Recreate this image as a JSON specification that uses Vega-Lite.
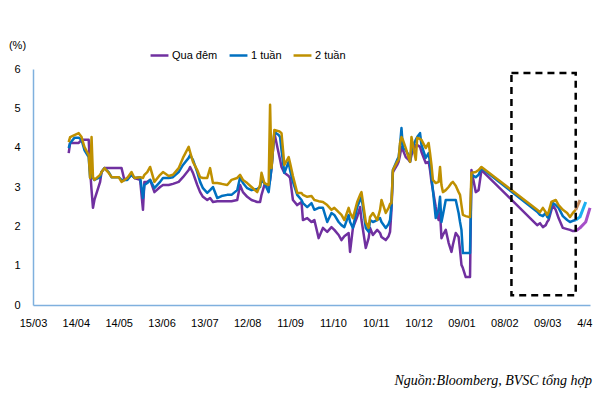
{
  "$schema": "https://vega.github.io/schema/vega-lite/v6.json",
  "width": 557,
  "height": 236,
  "autosize": "none",
  "padding": {"left": 33, "top": 69, "right": 10, "bottom": 95},
  "background": "white",
  "title": {
    "text": "Nguồn:Bloomberg, BVSC tổng hợp",
    "orient": "bottom",
    "anchor": "end",
    "font": "Liberation Serif",
    "fontStyle": "italic",
    "fontWeight": "normal",
    "fontSize": 14,
    "color": "#000000",
    "offset": 46
  },
  "datasets": {
    "rates": [
      {"date":"2019-04-09","qd":3.86,"w1":3.99,"w2":4.14},
      {"date":"2019-04-10","qd":4.12,"w1":4.12,"w2":4.27},
      {"date":"2019-04-13","qd":4.12,"w1":4.25,"w2":4.32},
      {"date":"2019-04-16","qd":4.12,"w1":4.25,"w2":4.37},
      {"date":"2019-04-18","qd":4.20,"w1":4.20,"w2":4.27},
      {"date":"2019-04-20","qd":4.20,"w1":3.94,"w2":4.02},
      {"date":"2019-04-23","qd":4.20,"w1":3.76,"w2":3.81},
      {"date":"2019-04-24","qd":3.43,"w1":3.23,"w2":3.23},
      {"date":"2019-04-25","qd":2.92,"w1":3.31,"w2":4.27},
      {"date":"2019-04-26","qd":2.47,"w1":3.23,"w2":3.25},
      {"date":"2019-04-27","qd":2.67,"w1":3.18,"w2":3.18},
      {"date":"2019-05-01","qd":3.13,"w1":3.25,"w2":3.31},
      {"date":"2019-05-02","qd":3.38,"w1":3.38,"w2":3.38},
      {"date":"2019-05-04","qd":3.48,"w1":3.48,"w2":3.48},
      {"date":"2019-05-07","qd":3.48,"w1":3.38,"w2":3.36},
      {"date":"2019-05-09","qd":3.48,"w1":3.25,"w2":3.25},
      {"date":"2019-05-14","qd":3.48,"w1":3.25,"w2":3.25},
      {"date":"2019-05-16","qd":3.48,"w1":3.18,"w2":3.13},
      {"date":"2019-05-18","qd":3.18,"w1":3.18,"w2":3.18},
      {"date":"2019-05-20","qd":3.23,"w1":3.18,"w2":3.23},
      {"date":"2019-05-23","qd":3.31,"w1":3.31,"w2":3.38},
      {"date":"2019-05-25","qd":3.23,"w1":3.23,"w2":3.23},
      {"date":"2019-05-29","qd":3.18,"w1":3.25,"w2":3.25},
      {"date":"2019-05-31","qd":2.42,"w1":2.72,"w2":3.23},
      {"date":"2019-06-01","qd":3.13,"w1":3.05,"w2":3.31},
      {"date":"2019-06-03","qd":3.13,"w1":3.10,"w2":3.38},
      {"date":"2019-06-05","qd":3.18,"w1":3.18,"w2":3.51},
      {"date":"2019-06-08","qd":2.87,"w1":2.97,"w2":3.13},
      {"date":"2019-06-12","qd":3.00,"w1":3.13,"w2":3.31},
      {"date":"2019-06-14","qd":3.05,"w1":3.23,"w2":3.38},
      {"date":"2019-06-18","qd":3.05,"w1":3.23,"w2":3.28},
      {"date":"2019-06-21","qd":3.08,"w1":3.25,"w2":3.31},
      {"date":"2019-06-25","qd":3.13,"w1":3.38,"w2":3.48},
      {"date":"2019-06-28","qd":3.25,"w1":3.56,"w2":3.74},
      {"date":"2019-07-02","qd":3.43,"w1":3.74,"w2":4.02},
      {"date":"2019-07-03","qd":3.51,"w1":3.81,"w2":3.89},
      {"date":"2019-07-05","qd":3.36,"w1":3.69,"w2":3.64},
      {"date":"2019-07-08","qd":3.05,"w1":3.38,"w2":3.43},
      {"date":"2019-07-10","qd":2.87,"w1":3.13,"w2":3.25},
      {"date":"2019-07-12","qd":2.75,"w1":2.97,"w2":3.23},
      {"date":"2019-07-15","qd":2.67,"w1":2.85,"w2":3.23},
      {"date":"2019-07-17","qd":2.72,"w1":2.92,"w2":3.48},
      {"date":"2019-07-19","qd":2.62,"w1":3.00,"w2":3.10},
      {"date":"2019-07-22","qd":2.64,"w1":2.72,"w2":3.10},
      {"date":"2019-07-25","qd":2.64,"w1":2.77,"w2":3.08},
      {"date":"2019-07-29","qd":2.64,"w1":2.80,"w2":3.05},
      {"date":"2019-08-01","qd":2.64,"w1":2.80,"w2":3.18},
      {"date":"2019-08-05","qd":2.67,"w1":2.92,"w2":3.23},
      {"date":"2019-08-07","qd":3.05,"w1":3.25,"w2":3.31},
      {"date":"2019-08-09","qd":2.87,"w1":3.10,"w2":3.18},
      {"date":"2019-08-12","qd":2.75,"w1":2.97,"w2":3.10},
      {"date":"2019-08-15","qd":2.67,"w1":2.92,"w2":3.00},
      {"date":"2019-08-19","qd":2.62,"w1":2.95,"w2":2.87},
      {"date":"2019-08-21","qd":2.62,"w1":3.00,"w2":3.05},
      {"date":"2019-08-22","qd":2.80,"w1":3.18,"w2":3.36},
      {"date":"2019-08-24","qd":3.05,"w1":3.10,"w2":3.10},
      {"date":"2019-08-27","qd":3.03,"w1":2.87,"w2":3.05},
      {"date":"2019-08-28","qd":3.18,"w1":3.18,"w2":5.09},
      {"date":"2019-08-29","qd":3.48,"w1":3.48,"w2":3.48},
      {"date":"2019-08-31","qd":4.37,"w1":4.40,"w2":4.45},
      {"date":"2019-09-03","qd":3.86,"w1":4.32,"w2":4.42},
      {"date":"2019-09-04","qd":3.69,"w1":4.27,"w2":4.40},
      {"date":"2019-09-05","qd":3.51,"w1":3.94,"w2":4.37},
      {"date":"2019-09-07","qd":3.36,"w1":3.36,"w2":3.56},
      {"date":"2019-09-10","qd":3.28,"w1":3.64,"w2":3.76},
      {"date":"2019-09-11","qd":3.23,"w1":3.43,"w2":3.61},
      {"date":"2019-09-13","qd":2.67,"w1":3.13,"w2":3.28},
      {"date":"2019-09-16","qd":2.54,"w1":2.80,"w2":2.85},
      {"date":"2019-09-19","qd":2.62,"w1":2.67,"w2":2.85},
      {"date":"2019-09-20","qd":2.16,"w1":2.59,"w2":2.80},
      {"date":"2019-09-23","qd":2.21,"w1":2.49,"w2":2.75},
      {"date":"2019-09-26","qd":2.11,"w1":2.59,"w2":2.77},
      {"date":"2019-09-28","qd":2.16,"w1":2.42,"w2":2.67},
      {"date":"2019-10-01","qd":1.70,"w1":2.47,"w2":2.64},
      {"date":"2019-10-04","qd":1.96,"w1":2.47,"w2":2.62},
      {"date":"2019-10-07","qd":1.86,"w1":2.11,"w2":2.54},
      {"date":"2019-10-10","qd":1.98,"w1":2.34,"w2":2.42},
      {"date":"2019-10-12","qd":1.91,"w1":2.29,"w2":2.47},
      {"date":"2019-10-15","qd":1.78,"w1":2.11,"w2":2.36},
      {"date":"2019-10-17","qd":1.65,"w1":2.03,"w2":2.29},
      {"date":"2019-10-19","qd":1.75,"w1":1.98,"w2":2.16},
      {"date":"2019-10-22","qd":1.83,"w1":2.29,"w2":2.47},
      {"date":"2019-10-23","qd":1.35,"w1":2.11,"w2":2.34},
      {"date":"2019-10-25","qd":1.96,"w1":1.96,"w2":2.21},
      {"date":"2019-10-28","qd":2.24,"w1":2.49,"w2":2.62},
      {"date":"2019-10-30","qd":2.49,"w1":2.67,"w2":2.80},
      {"date":"2019-10-31","qd":2.16,"w1":2.75,"w2":2.87},
      {"date":"2019-11-03","qd":1.45,"w1":1.96,"w2":2.11},
      {"date":"2019-11-05","qd":1.70,"w1":1.86,"w2":1.96},
      {"date":"2019-11-06","qd":1.96,"w1":2.16,"w2":2.24},
      {"date":"2019-11-08","qd":1.78,"w1":2.11,"w2":2.34},
      {"date":"2019-11-11","qd":1.91,"w1":2.16,"w2":2.16},
      {"date":"2019-11-13","qd":1.83,"w1":2.21,"w2":2.42},
      {"date":"2019-11-14","qd":1.73,"w1":2.11,"w2":2.67},
      {"date":"2019-11-17","qd":1.65,"w1":1.96,"w2":2.34},
      {"date":"2019-11-19","qd":1.75,"w1":2.06,"w2":2.47},
      {"date":"2019-11-20","qd":1.86,"w1":2.16,"w2":2.57},
      {"date":"2019-11-21","qd":2.42,"w1":2.54,"w2":2.59},
      {"date":"2019-11-22","qd":3.38,"w1":3.43,"w2":3.43},
      {"date":"2019-11-25","qd":3.56,"w1":3.69,"w2":3.64},
      {"date":"2019-11-26","qd":3.64,"w1":3.76,"w2":3.69},
      {"date":"2019-11-27","qd":3.81,"w1":4.07,"w2":4.12},
      {"date":"2019-11-28","qd":4.02,"w1":4.50,"w2":4.27},
      {"date":"2019-11-29","qd":3.94,"w1":3.99,"w2":4.20},
      {"date":"2019-12-01","qd":3.76,"w1":3.94,"w2":3.99},
      {"date":"2019-12-03","qd":3.69,"w1":3.81,"w2":3.74},
      {"date":"2019-12-04","qd":3.64,"w1":3.64,"w2":3.64},
      {"date":"2019-12-05","qd":3.81,"w1":3.94,"w2":4.27},
      {"date":"2019-12-08","qd":4.07,"w1":4.20,"w2":3.69},
      {"date":"2019-12-09","qd":4.07,"w1":4.27,"w2":4.25},
      {"date":"2019-12-11","qd":4.02,"w1":4.37,"w2":4.22},
      {"date":"2019-12-12","qd":3.89,"w1":4.07,"w2":4.20},
      {"date":"2019-12-15","qd":3.61,"w1":3.74,"w2":3.99},
      {"date":"2019-12-17","qd":3.64,"w1":3.86,"w2":4.12},
      {"date":"2019-12-18","qd":3.43,"w1":3.61,"w2":3.86},
      {"date":"2019-12-19","qd":3.13,"w1":3.25,"w2":3.56},
      {"date":"2019-12-20","qd":2.92,"w1":2.92,"w2":3.18},
      {"date":"2019-12-22","qd":2.49,"w1":2.21,"w2":3.10},
      {"date":"2019-12-24","qd":2.16,"w1":2.42,"w2":3.13},
      {"date":"2019-12-25","qd":2.36,"w1":2.75,"w2":3.51},
      {"date":"2019-12-26","qd":1.70,"w1":2.11,"w2":3.05},
      {"date":"2019-12-27","qd":1.78,"w1":2.29,"w2":2.87},
      {"date":"2019-12-29","qd":1.91,"w1":2.67,"w2":2.92},
      {"date":"2019-12-31","qd":1.58,"w1":2.67,"w2":3.00},
      {"date":"2020-01-02","qd":1.35,"w1":2.67,"w2":3.10},
      {"date":"2020-01-03","qd":1.53,"w1":2.67,"w2":3.13},
      {"date":"2020-01-05","qd":1.83,"w1":2.67,"w2":3.03},
      {"date":"2020-01-07","qd":1.73,"w1":2.34,"w2":2.87},
      {"date":"2020-01-08","qd":1.40,"w1":2.11,"w2":2.80},
      {"date":"2020-01-09","qd":1.02,"w1":1.91,"w2":2.54},
      {"date":"2020-01-10","qd":0.94,"w1":1.32,"w2":2.29},
      {"date":"2020-01-12","qd":0.71,"w1":1.32,"w2":2.26},
      {"date":"2020-01-14","qd":0.71,"w1":1.32,"w2":2.24},
      {"date":"2020-01-15","qd":0.71,"w1":1.32,"w2":2.24},
      {"date":"2020-01-16","qd":3.43,"w1":3.31,"w2":3.36},
      {"date":"2020-01-19","qd":2.87,"w1":3.25,"w2":3.38},
      {"date":"2020-01-21","qd":2.92,"w1":3.31,"w2":3.43},
      {"date":"2020-01-23","qd":3.43,"w1":3.48,"w2":3.51},
      {"date":"2020-03-02","qd":2.03,"w1":2.37,"w2":2.42},
      {"date":"2020-03-04","qd":2.08,"w1":2.29,"w2":2.36},
      {"date":"2020-03-06","qd":1.98,"w1":2.26,"w2":2.47},
      {"date":"2020-03-08","qd":2.03,"w1":2.34,"w2":2.36},
      {"date":"2020-03-09","qd":2.11,"w1":2.24,"w2":2.29},
      {"date":"2020-03-10","qd":2.16,"w1":2.21,"w2":2.36},
      {"date":"2020-03-12","qd":2.42,"w1":2.52,"w2":2.62},
      {"date":"2020-03-13","qd":2.54,"w1":2.59,"w2":2.64},
      {"date":"2020-03-15","qd":2.42,"w1":2.54,"w2":2.67},
      {"date":"2020-03-17","qd":2.21,"w1":2.47,"w2":2.54},
      {"date":"2020-03-20","qd":1.96,"w1":2.26,"w2":2.42},
      {"date":"2020-03-23","qd":1.93,"w1":2.16,"w2":2.34},
      {"date":"2020-03-25","qd":1.91,"w1":2.11,"w2":2.24},
      {"date":"2020-03-27","qd":1.88,"w1":2.14,"w2":2.34},
      {"date":"2020-03-29","qd":1.88,"w1":2.16,"w2":2.42},
      {"date":"2020-04-01","qd":1.96,"w1":2.24,"w2":2.67},
      {"date":"2020-04-05","qd":2.11,"w1":2.62,"w2":null},
      {"date":"2020-04-08","qd":2.47,"w1":null,"w2":null}
    ],
    "box": [
      {"start":"2020-02-13","end":"2020-03-29","low":0.25,"high":5.9}
    ]
  },
  "layer": [
    {
      "data": {"name": "rates"},
      "transform": [
        {"filter": "time(datum.date) <= utc(2020, 2, 29)"},
        {"fold": ["qd","w1","w2"], "as": ["series","value"]}
      ],
      "mark": {"type": "line", "strokeWidth": 2.5, "strokeJoin": "round"},
      "encoding": {
        "x": {
          "field": "date", "type": "temporal",
          "scale": {"type": "utc", "domain": [{"year":2019,"month":3,"date":15,"utc":true},{"year":2020,"month":4,"date":8,"utc":true}]},
          "axis": {
            "title": null,
            "values": [
              {"year":2019,"month":3,"date":15,"utc":true},
              {"year":2019,"month":4,"date":14,"utc":true},
              {"year":2019,"month":5,"date":14,"utc":true},
              {"year":2019,"month":6,"date":13,"utc":true},
              {"year":2019,"month":7,"date":13,"utc":true},
              {"year":2019,"month":8,"date":12,"utc":true},
              {"year":2019,"month":9,"date":11,"utc":true},
              {"year":2019,"month":10,"date":11,"utc":true},
              {"year":2019,"month":11,"date":10,"utc":true},
              {"year":2019,"month":12,"date":10,"utc":true},
              {"year":2020,"month":1,"date":9,"utc":true},
              {"year":2020,"month":2,"date":8,"utc":true},
              {"year":2020,"month":3,"date":9,"utc":true},
              {"year":2020,"month":4,"date":4,"utc":true}
            ],
            "labelExpr": "utcFormat(datum.value, '%d/%m') == '04/04' ? '4/4' : utcFormat(datum.value, '%d/%m')",
            "grid": false,
            "ticks": false,
            "labelFlush": false,
            "labelOverlap": false,
            "labelPadding": 12,
            "labelFont": "Liberation Sans",
            "labelFontSize": 11,
            "labelColor": "#000000",
            "domainColor": "#7fb0de",
            "domainWidth": 1.5
          }
        },
        "y": {
          "field": "value", "type": "quantitative",
          "scale": {"domain": [0, 6], "nice": false, "zero": true},
          "axis": {
            "title": "(%)",
            "titleAngle": 0,
            "titleX": -16,
            "titleY": -24,
            "titleAlign": "center",
            "titleBaseline": "middle",
            "titleFont": "Liberation Sans",
            "titleFontSize": 11,
            "titleFontWeight": "normal",
            "titleColor": "#000000",
            "values": [0,1,2,3,4,5,6],
            "tickCount": 7,
            "grid": false,
            "ticks": false,
            "labelOverlap": false,
            "labelFlush": false,
            "labelPadding": 13,
            "labelFont": "Liberation Sans",
            "labelFontSize": 11,
            "labelColor": "#000000",
            "domainColor": "#7fb0de",
            "domainWidth": 1.5
          }
        },
        "color": {
          "field": "series", "type": "nominal",
          "scale": {"domain": ["qd","w1","w2"], "range": ["#7030a0","#0070c0","#bf9000"]},
          "legend": {
            "title": null,
            "orient": "none",
            "legendX": 116,
            "legendY": -24,
            "direction": "horizontal",
            "gridAlign": "none",
            "symbolType": "stroke",
            "symbolSize": 320,
            "symbolStrokeWidth": 2.5,
            "labelFont": "Liberation Sans",
            "labelFontSize": 11,
            "labelColor": "#000000",
            "labelOffset": 2,
            "columnPadding": 6,
            "labelExpr": "datum.label == 'qd' ? 'Qua đêm' : datum.label == 'w1' ? '1 tuần' : '2 tuần'"
          }
        }
      }
    },
    {
      "data": {"name": "rates"},
      "transform": [
        {"filter": "time(datum.date) >= utc(2020, 2, 29)"},
        {"fold": ["qd","w1","w2"], "as": ["series","value"]}
      ],
      "mark": {"type": "line", "strokeWidth": 3, "strokeJoin": "round"},
      "encoding": {
        "x": {"field": "date", "type": "temporal"},
        "y": {
          "field": "value", "type": "quantitative",
          "axis": {"values": [0,1,2,3,4,5,6], "tickCount": 7, "labelOverlap": false}
        },
        "color": {
          "field": "series", "type": "nominal",
          "scale": {"domain": ["qd","w1","w2"], "range": ["#a64fc8","#1cb0f0","#c0865a"]},
          "legend": null
        }
      }
    },
    {
      "data": {"name": "box"},
      "mark": {"type": "rect", "fill": null, "fillOpacity": 0, "stroke": "#000000", "strokeWidth": 2.5, "strokeDash": [7, 5]},
      "encoding": {
        "x": {"field": "start", "type": "temporal"},
        "x2": {"field": "end"},
        "y": {
          "field": "low", "type": "quantitative",
          "axis": {"values": [0,1,2,3,4,5,6], "tickCount": 7, "labelOverlap": false}
        },
        "y2": {"field": "high"}
      }
    }
  ],
  "resolve": {"scale": {"color": "independent"}},
  "config": {
    "view": {"stroke": null},
    "font": "Liberation Sans"
  }
}
